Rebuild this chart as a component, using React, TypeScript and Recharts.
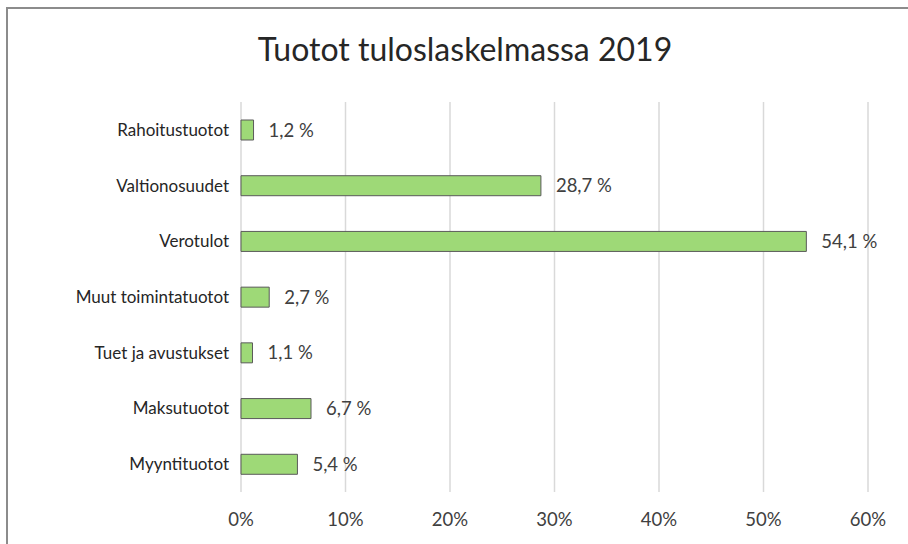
import { BarChart, Bar, XAxis, YAxis, CartesianGrid, LabelList } from 'recharts'

const categories = [
  'Rahoitustuotot',
  'Valtionosuudet',
  'Verotulot',
  'Muut toimintatuotot',
  'Tuet ja avustukset',
  'Maksutuotot',
  'Myyntituotot',
]
const shares = [1.2, 28.7, 54.1, 2.7, 1.1, 6.7, 5.4]
const xTicks = [0, 10, 20, 30, 40, 50, 60]

const data = categories.map((name, i) => ({ name, value: shares[i] }))

const font = 'Lato, "Open Sans", sans-serif'

export default function App() {
  return (
    <div style={{ position: 'absolute', left: 0, top: 0, width: 908, height: 544, overflow: 'hidden', background: '#fff', fontFamily: font }}>
      {/* chart frame, runs past the right and bottom edges */}
      <div style={{ position: 'absolute', left: 6, top: 7, width: 1000, height: 1000, border: '2px solid #8c8c8c' }} />
      <div style={{ position: 'absolute', left: 0, top: 29, width: 930, textAlign: 'center', fontSize: 32, color: '#262626' }}>
        Tuotot tuloslaskelmassa 2019
      </div>
      <BarChart
        width={908}
        height={544}
        data={data}
        layout="vertical"
        margin={{ top: 102, right: 40, left: 0, bottom: 0 }}
        style={{ position: 'absolute', left: 0, top: 0 }}
      >
        <CartesianGrid horizontal={false} stroke="#d9d9d9" strokeWidth={1.5} />
        <XAxis
          type="number"
          domain={[0, 60]}
          ticks={xTicks}
          tickFormatter={(v) => `${v}%`}
          axisLine={false}
          tickLine={false}
          tickSize={0}
          tickMargin={21}
          height={52}
          tick={{ fontSize: 18.5, fill: '#404040', fontFamily: font }}
        />
        <YAxis
          type="category"
          dataKey="name"
          width={241}
          axisLine={false}
          tickLine={false}
          tickSize={0}
          tickMargin={12}
          tick={{ fontSize: 17, fill: '#262626', fontFamily: font }}
        />
        <Bar dataKey="value" fill="#9ed977" stroke="#5a5a5a" strokeWidth={1} barSize={20} isAnimationActive={false}>
          <LabelList
            dataKey="value"
            position="right"
            offset={15}
            formatter={(v: number) => `${v.toFixed(1).replace('.', ',')} %`}
            style={{ fontSize: 18.5, fill: '#404040', fontFamily: font }}
          />
        </Bar>
      </BarChart>
    </div>
  )
}
